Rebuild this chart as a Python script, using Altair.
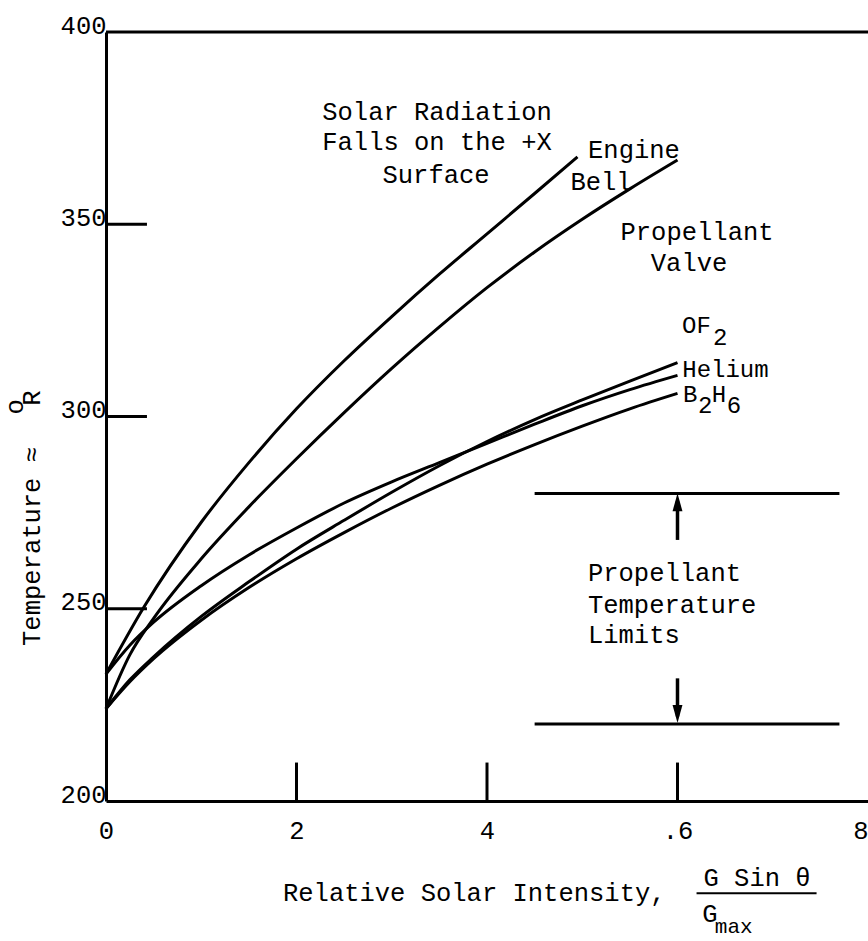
import altair as alt
import pandas as pd

FONT = "Liberation Mono"
FS = 25.5

# ---------------- data ----------------
# Engine Bell curve (stops near x = 5)
bell_x = [0, 0.4, 1.0, 1.5, 2.0, 2.5, 3.0, 3.5, 4.0, 4.5, 4.95]
bell_t = [233, 250.5, 272.5, 288, 302, 314.5, 326, 337, 347.5, 358, 367.5]

# Propellant Valve curve
valve_x = [0, 0.25, 0.5, 1.0, 1.5, 2.0, 2.5, 3.0, 3.5, 4.0, 4.5, 5.0, 5.5, 6.0]
valve_t = [224, 238, 247.5, 263, 276.5, 289, 301, 312.5, 323.3, 333.5, 342.8, 351.3, 359.2, 366.7]

# OF2 / Helium / B2H6 curves share the same x samples
tank_x = [0, 0.25, 0.5, 1.0, 1.5, 2.0, 2.5, 3.0, 3.5, 4.0, 4.5, 5.0, 5.5, 6.0]
helium_t = [233, 240.5, 246.5, 256, 264, 271, 277.5, 283, 288, 293, 298, 302.8, 307, 310.7]
of2_t = [224, 231.5, 237.5, 248, 257, 265.5, 273, 280.3, 287.2, 293.5, 299.2, 304.3, 309.2, 314]
b2h6_t = [224, 231, 237, 247, 255.5, 263, 269.8, 276.2, 282.1, 287.6, 292.7, 297.5, 302, 306]

# axes
x_ticks = [0, 2, 4, 6, 8]
y_ticks = [200, 250, 300, 350, 400]
x_inner_ticks = [2, 4, 6]
y_inner_ticks = [250, 300, 350]

# propellant temperature limits
limit_t = [280, 220]
limit_x0, limit_x1 = 4.5, 7.7

# ---------------- build tables ----------------
rows = []
for name, xs, ts in [("Engine Bell", bell_x, bell_t),
                     ("Propellant Valve", valve_x, valve_t),
                     ("Helium", tank_x, helium_t),
                     ("OF2", tank_x, of2_t),
                     ("B2H6", tank_x, b2h6_t)]:
    for xv, tv in zip(xs, ts):
        rows.append({"series": name, "xv": xv, "tv": tv})
curves_df = pd.DataFrame(rows)

xscale = alt.Scale(domain=[0, 8], nice=False, zero=False)
yscale = alt.Scale(domain=[200, 400], nice=False, zero=False)

xaxis = alt.Axis(values=x_ticks, title=None, grid=False, ticks=False,
                 domainColor="black", domainWidth=3, labelFont=FONT, labelFontSize=FS,
                 labelColor="black", labelPadding=17, labelFlush=False,
                 labelExpr="datum.value == 6 ? '.6' : datum.label",
                 labelAlign=alt.condition("datum.value == 8", alt.value("right"), alt.value("center")))
yaxis = alt.Axis(values=y_ticks, title=None, grid=False, ticks=False,
                 domainColor="black", domainWidth=3, labelFont=FONT, labelFontSize=FS,
                 labelColor="black", labelPadding=0, labelAlign="right",
                 labelBaseline="middle", labelOffset=-7)


def X(f):
    return alt.X(f, scale=xscale, axis=xaxis)


def Y(f):
    return alt.Y(f, scale=yscale, axis=yaxis)


lines = alt.Chart(curves_df).mark_line(
    interpolate="monotone", color="black", strokeWidth=3
).encode(
    x=X("xv:Q"),
    y=Y("tv:Q"),
    detail="series:N",
    order="xv:Q",
)

# inner ticks
ytick_df = pd.DataFrame({"t": y_inner_ticks, "x0": [0] * 3, "x1": [0.43] * 3})
ytick_layer = alt.Chart(ytick_df).mark_rule(color="black", strokeWidth=3).encode(
    x=X("x0:Q"), x2="x1:Q", y=Y("t:Q"))
xtick_df = pd.DataFrame({"x": x_inner_ticks, "t0": [200] * 3, "t1": [210] * 3})
xtick_layer = alt.Chart(xtick_df).mark_rule(color="black", strokeWidth=3).encode(
    x=X("x:Q"), y=Y("t0:Q"), y2="t1:Q")

# top border
top_df = pd.DataFrame({"t": [400], "x0": [0], "x1": [8]})
top_layer = alt.Chart(top_df).mark_rule(color="black", strokeWidth=3).encode(
    x=X("x0:Q"), x2="x1:Q", y=Y("t:Q"))

# limit lines
lim_df = pd.DataFrame({"t": limit_t, "x0": [limit_x0] * 2, "x1": [limit_x1] * 2})
lim_layer = alt.Chart(lim_df).mark_rule(color="black", strokeWidth=3).encode(
    x=X("x0:Q"), x2="x1:Q", y=Y("t:Q"))

# arrows
shaft_df = pd.DataFrame({"x": [6, 6], "t0": [267.9, 231.9], "t1": [278, 222]})
shaft_layer = alt.Chart(shaft_df).mark_rule(color="black", strokeWidth=3.5).encode(
    x=X("x:Q"), y=Y("t0:Q"), y2="t1:Q")
up_df = pd.DataFrame({"x": [6], "t": [277.7]})
up_layer = alt.Chart(up_df).mark_point(
    shape="M0,-1L0.55,1L-0.55,1Z", filled=True, color="black", opacity=1, size=324
).encode(x=X("x:Q"), y=Y("t:Q"))
down_df = pd.DataFrame({"x": [6], "t": [222.6]})
down_layer = alt.Chart(down_df).mark_point(
    shape="M0,1L0.55,-1L-0.55,-1Z", filled=True, color="black", opacity=1, size=324
).encode(x=X("x:Q"), y=Y("t:Q"))

# fraction bar of the x title
frac_df = pd.DataFrame({"t": [176.0], "x0": [6.20], "x1": [7.46]})
frac_layer = alt.Chart(frac_df).mark_rule(color="black", strokeWidth=2).encode(
    x=X("x0:Q"), x2="x1:Q", y=Y("t:Q"))

# text annotations
center_df = pd.DataFrame({
    "label": ["Solar Radiation", "Falls on the +X", "Surface", "Engine", "Bell",
              "Propellant", "Valve", "G Sin θ", "G"],
    "x": [3.475, 3.475, 3.465, 5.543, 5.197, 6.205, 6.121, 6.835, 6.34],
    "t": [379.2, 371.4, 362.8, 369.3, 361.0, 348.0, 339.9, 179.9, 170.6],
})
center_layer = alt.Chart(center_df).mark_text(
    font=FONT, fontSize=FS, color="black", align="center", baseline="middle"
).encode(x=X("x:Q"), y=Y("t:Q"), text="label:N")

left_df = pd.DataFrame({
    "label": ["Propellant", "Temperature", "Limits", "Relative Solar Intensity,"],
    "x": [5.06, 5.06, 5.06, 1.858],
    "t": [259.2, 250.9, 243.1, 176.0],
})
left_layer = alt.Chart(left_df).mark_text(
    font=FONT, fontSize=FS, color="black", align="left", baseline="middle"
).encode(x=X("x:Q"), y=Y("t:Q"), text="label:N")

# curve-end labels (slightly smaller so they stack as tightly as in the original)
end_df = pd.DataFrame({
    "label": ["OF", "2", "Helium", "B H", "2 6"],
    "x": [6.047, 6.373, 6.05, 6.058, 6.215],
    "t": [323.6, 320.4, 312.1, 305.7, 302.7],
})
end_layer = alt.Chart(end_df).mark_text(
    font=FONT, fontSize=24, color="black", align="left", baseline="middle"
).encode(x=X("x:Q"), y=Y("t:Q"), text="label:N")

max_df = pd.DataFrame({"label": ["max"], "x": [6.59], "t": [167.2]})
max_layer = alt.Chart(max_df).mark_text(
    font=FONT, fontSize=21, color="black", align="center", baseline="middle"
).encode(x=X("x:Q"), y=Y("t:Q"), text="label:N")

rot_df = pd.DataFrame({
    "label": ["Temperature ≈", "o", "R"],
    "x": [-0.777, -0.96, -0.777],
    "t": [266.2, 302.5, 304.8],
})
rot_layer = alt.Chart(rot_df).mark_text(
    font=FONT, fontSize=FS, color="black", align="center", baseline="middle", angle=270
).encode(x=X("x:Q"), y=Y("t:Q"), text="label:N")

chart = alt.layer(
    lines, ytick_layer, xtick_layer, top_layer, lim_layer, shaft_layer,
    up_layer, down_layer, frac_layer, center_layer, left_layer, end_layer,
    max_layer, rot_layer
).properties(
    width=762, height=769,
    autosize=alt.AutoSizeParams(type="none"),
    padding={"left": 106, "top": 32, "right": 0, "bottom": 140},
    background="white",
).configure_view(stroke=None)

chart.save("out.html", embed_options={"renderer": "svg", "actions": False})
